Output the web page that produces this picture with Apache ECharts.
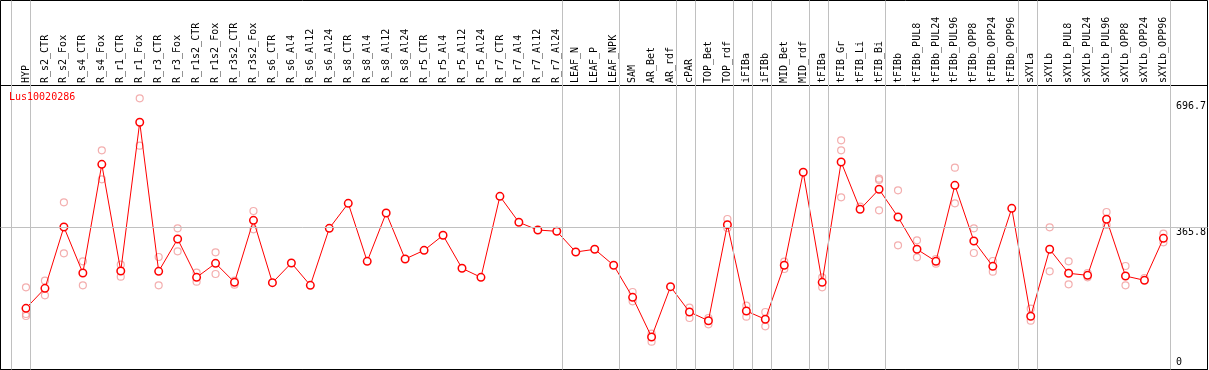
<!DOCTYPE html>
<html>
<head>
<meta charset="utf-8">
<script src="https://cdn.jsdelivr.net/npm/echarts@6/dist/echarts.min.js"></script>
<style>html,body{margin:0;padding:0;background:#fff}#c{width:1209px;height:370px}</style>
</head>
<body>
<div id="c"></div>
<script>
const titleText = 'Lus10020286';
const categories = ['HYP','R_s2_CTR','R_s2_Fox','R_s4_CTR','R_s4_Fox','R_r1_CTR','R_r1_Fox','R_r3_CTR','R_r3_Fox','R_r1s2_CTR','R_r1s2_Fox','R_r3s2_CTR','R_r3s2_Fox','R_s6_CTR','R_s6_Al4','R_s6_Al12','R_s6_Al24','R_s8_CTR','R_s8_Al4','R_s8_Al12','R_s8_Al24','R_r5_CTR','R_r5_Al4','R_r5_Al12','R_r5_Al24','R_r7_CTR','R_r7_Al4','R_r7_Al12','R_r7_Al24','LEAF_N','LEAF_P','LEAF_NPK','SAM','AR_Bet','AR_rdf','cPAR','TOP_Bet','TOP_rdf','iFIBa','iFIBb','MID_Bet','MID_rdf','tFIBa','tFIB_Gr','tFIB_Li','tFIB_Bi','tFIBb','tFIBb_PUL8','tFIBb_PUL24','tFIBb_PUL96','tFIBb_OPP8','tFIBb_OPP24','tFIBb_OPP96','sXYLa','sXYLb','sXYLb_PUL8','sXYLb_PUL24','sXYLb_PUL96','sXYLb_OPP8','sXYLb_OPP24','sXYLb_OPP96'];
const meanValues = [146.2,200.7,367.7,242.4,538.4,247.9,652.9,247.0,335.0,230.6,
  268.8,217.0,385.9,216.1,269.6,208.8,364.1,432.2,274.2,405.8,
  280.5,304.2,345.1,255.2,230.6,451.3,380.5,359.5,356.0,299.6,
  307.0,263.4,176.2,68.1,205.2,136.2,112.5,374.0,138.9,116.3,
  263.4,516.7,217.0,544.7,415.9,470.4,395.0,307.0,274.2,481.2,
  329.6,260.6,418.6,124.5,307.0,241.6,236.1,388.7,234.2,222.5,336.9];
const replicateValues = [
  [203.4,130.7,125.3],[221.5,181.6],[435.0,296.0],[274.2,208.8],[576.5,497.6],
  [265.0,232.4],[718.2,589.2],[286.0,208.8],[364.1,301.5],[243.3,218.8],
  [298.8,239.7],[210.6,221.5],[411.3,361.4],[],[],
  [],[],[],[],[],
  [],[],[],[],[],
  [],[],[],[],[],
  [],[],[190.7,165.3],[77.1,55.3],[],
  [147.9,119.8],[119.8,102.7],[389.5,365.0],[153.4,123.4],[136.2,97.2],
  [273.2,253.3],[],[230.6,203.4],[603.8,576.6,448.6],[423.0],
  [499.3,495.7,413.2],[467.7,317.8],[331.5,285.2],[280.5,267.7],[529.3,432.2],
  [364.1,296.9],[275.1,246.0],[],[145.2,112.5],[366.8,247.0],
  [274.2,211.6],[242.4,230.6],[408.6,373.2],[261.5,208.8],[228.8],[349.5,326.0]
];
const yTickLabels = [0, 365.8, 696.7];
const refLineValue = 365.8;
// separators drawn after these category indices (-1 = before the first)
const groupBreaks = [-1,0,28,31,34,35,37,38,39,41,42,45,52,53,60];

// pixel layout
const X0 = 26, DX = 19;       // px of category 0, px per category
const Y0 = 362, SY = 0.36714; // px of value 0, px per unit
const FONT = 'DejaVu Sans Mono';
const xv = px => (px - X0) / DX;
const yv = py => (Y0 - py) / SY;

const repData = [];
replicateValues.forEach((arr, i) => arr.forEach(v => repData.push([i, v])));

const frame = {l: 0.5, t: 0.5, r: 1207.5, b: 369.5};
const dataTop = 86, dataBottom = 369;
const bandLeft = X0 - DX / 2, bandWidth = DX * categories.length;

const option = {
  animation: false,
  backgroundColor: '#fff',
  title: {text: titleText, left: 9, top: 92, padding: 0,
    textStyle: {color: '#ff0000', fontSize: 10, fontFamily: FONT, fontWeight: 'normal'}},
  grid: [
    {left: frame.l, top: frame.t, width: frame.r - frame.l, height: frame.b - frame.t,
     show: true, borderColor: '#000', borderWidth: 1, backgroundColor: 'transparent'},
    {left: frame.l, top: dataTop - 0.5, width: frame.r - frame.l, height: frame.b - dataTop + 0.5,
     show: true, borderColor: '#000', borderWidth: 1, backgroundColor: 'transparent'},
    {left: bandLeft, top: dataTop, width: bandWidth, height: dataBottom - dataTop}
  ],
  xAxis: [
    {gridIndex: 0, type: 'value', min: xv(frame.l), max: xv(frame.r), show: false},
    {gridIndex: 1, type: 'value', min: 0, max: 1, show: false},
    {gridIndex: 2, type: 'category', data: categories, position: 'top', boundaryGap: true,
     axisLine: {show: false}, axisTick: {show: false}, splitLine: {show: false},
     axisLabel: {interval: 0, rotate: 90, margin: 3, color: '#000', fontSize: 10, fontFamily: FONT}}
  ],
  yAxis: [
    {gridIndex: 0, type: 'value', min: yv(frame.b), max: yv(frame.t), show: false},
    {gridIndex: 1, type: 'value', min: 0, max: 1, show: false},
    {gridIndex: 2, type: 'value', position: 'right', min: yv(dataBottom), max: yv(dataTop),
     axisLine: {show: false}, axisTick: {show: false}, splitLine: {show: false},
     axisLabel: {customValues: yTickLabels, margin: 3, color: '#000', fontSize: 10, fontFamily: FONT,
       align: 'left', verticalAlign: 'middle',
       formatter: v => (v === refLineValue ? '{m|' + v + '}' : String(v)),
       rich: {m: {fontSize: 10, fontFamily: FONT, color: '#000', padding: [10, 0, 0, 0]}}}}
  ],
  series: [
    {type: 'line', xAxisIndex: 0, yAxisIndex: 0, data: [], silent: true, z: 1,
     markLine: {silent: true, symbol: 'none', label: {show: false}, animation: false,
       lineStyle: {color: '#c0c0c0', width: 1, type: 'solid'},
       data: groupBreaks.map(k => ({xAxis: k + 0.24})).concat([{yAxis: refLineValue}])}},
    {type: 'scatter', xAxisIndex: 2, yAxisIndex: 2, data: repData, symbol: 'circle', symbolSize: 7, z: 3,
     itemStyle: {color: 'transparent', borderColor: '#f09a9a', borderWidth: 1.2}},
    {type: 'line', xAxisIndex: 2, yAxisIndex: 2, data: meanValues, symbol: 'circle', symbolSize: 7.5, z: 4,
     lineStyle: {color: '#ff0000', width: 1},
     itemStyle: {color: '#ffffff', borderColor: '#ff0000', borderWidth: 1.5}}
  ]
};
const chart = echarts.init(document.getElementById('c'), null, {renderer: 'canvas'});
chart.setOption(option);
</script>
</body>
</html>
